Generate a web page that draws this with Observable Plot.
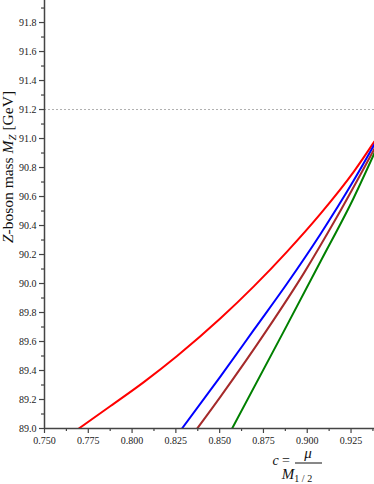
<!DOCTYPE html>
<html><head><meta charset="utf-8">
<script src="https://cdn.jsdelivr.net/npm/d3@7"></script>
<script src="https://cdn.jsdelivr.net/npm/@observablehq/plot@0.6"></script>
<style>
body{margin:0;background:#fff}
svg, svg text { font-family: "Liberation Serif", "Times New Roman", serif !important; }
</style>
</head><body><div id="chart"></div>
<script>
// series values
const seriesNames = ["red", "blue", "brown", "green"];
const seriesColors = ["#ff0000", "#0000ff", "#7a0000", "#008000"];
const cRed   = [0.7696, 0.7877, 0.8067, 0.8257, 0.8505, 0.8695, 0.8885, 0.9075, 0.9265, 0.9384];
const mzRed  = [89.00, 89.155, 89.32, 89.50, 89.76, 89.98, 90.22, 90.48, 90.77, 90.98];
const cBlue  = [0.8285, 0.8505, 0.8695, 0.8885, 0.9075, 0.9265, 0.9384];
const mzBlue = [89.00, 89.36, 89.68, 90.00, 90.34, 90.71, 90.96];
const cBrown  = [0.8372, 0.8505, 0.877, 0.898, 0.917, 0.9384];
const mzBrown = [89.00, 89.22, 89.68, 90.07, 90.46, 90.93];
const cGreen  = [0.8571, 0.8866, 0.9075, 0.9265, 0.9384];
const mzGreen = [89.00, 89.67, 90.15, 90.59, 90.90];
const refMz = [91.2];
const xTicks = [0.750, 0.775, 0.800, 0.825, 0.850, 0.875, 0.900, 0.925];
const xMinor = [0.7625, 0.7875, 0.8125, 0.8375, 0.8625, 0.8875, 0.9125, 0.9375];
const yTicks = [89.0, 89.2, 89.4, 89.6, 89.8, 90.0, 90.2, 90.4, 90.6, 90.8, 91.0, 91.2, 91.4, 91.6, 91.8];
const yMinor = [89.1, 89.3, 89.5, 89.7, 89.9, 90.1, 90.3, 90.5, 90.7, 90.9, 91.1, 91.3, 91.5, 91.7, 91.9];

const cs = [cRed, cBlue, cBrown, cGreen];
const ms = [mzRed, mzBlue, mzBrown, mzGreen];
const data = seriesNames.flatMap((s, i) => cs[i].map((c, j) => ({series: s, c, mz: ms[i][j]})));

const plot = Plot.plot({
  width: 374, height: 484,
  marginLeft: 44, marginRight: 0, marginTop: 0, marginBottom: 56,
  style: {fontSize: "10px", color: "#222", background: "#fff"},
  x: {domain: [0.75, 0.9384], label: null},
  y: {domain: [89, 91.952], label: null},
  color: {domain: seriesNames, range: seriesColors},
  marks: [
    Plot.ruleY(refMz, {stroke: "#b0b0b0", strokeWidth: 1, strokeDasharray: "2,2"}),
    Plot.line(data, {x: "c", y: "mz", z: "series", stroke: "series", strokeWidth: 2, curve: "monotone-x", clip: true}),
    Plot.axisX({ticks: xTicks, tickFormat: d => d.toFixed(3), tickSize: 5, tickPadding: 3, stroke: "#444", strokeWidth: 1.2}),
    Plot.axisX({ticks: xMinor, tickFormat: () => "", tickSize: 3, stroke: "#444", strokeWidth: 1.2}),
    Plot.axisY({ticks: yTicks, tickFormat: d => d.toFixed(1), tickSize: 5, tickPadding: 3, stroke: "#444", strokeWidth: 1.2}),
    Plot.axisY({ticks: yMinor, tickFormat: () => "", tickSize: 3, stroke: "#444", strokeWidth: 1.2}),
    Plot.ruleX([0.75], {stroke: "#444", strokeWidth: 1.5}),
    Plot.ruleY([89], {stroke: "#444", strokeWidth: 1.5})
  ]
});
document.getElementById("chart").appendChild(plot);

const svg = d3.select(plot);
// y-axis title
const yl = svg.append("text")
  .attr("transform", "translate(13,167) rotate(-90)")
  .attr("text-anchor", "middle")
  .style("font-size", "15.5px").attr("fill", "#111");
yl.append("tspan").attr("font-style", "italic").text("Z");
yl.append("tspan").text("-boson mass ");
yl.append("tspan").attr("font-style", "italic").text("M");
yl.append("tspan").attr("font-style", "italic").attr("font-size", "11px").attr("dy", "3").text("Z");
yl.append("tspan").attr("dy", "-3").text(" [GeV]");

// x-axis title: c = mu / M_{1/2}
const g = svg.append("g").attr("fill", "#111");
const t1 = g.append("text").attr("x", 290).attr("y", 465).attr("text-anchor", "end").style("font-size", "14px");
t1.append("tspan").attr("font-style", "italic").text("c");
t1.append("tspan").text(" =");
g.append("text").attr("x", 308).attr("y", 458).attr("text-anchor", "middle").style("font-size", "15px").attr("font-style", "italic").text("μ");
g.append("line").attr("x1", 295).attr("x2", 322).attr("y1", 463).attr("y2", 463).attr("stroke", "#111").attr("stroke-width", 1);
const t2 = g.append("text").attr("x", 297).attr("y", 479).style("font-size", "15px");
t2.append("tspan").attr("font-style", "italic").text("M");
t2.append("tspan").attr("font-size", "10px").attr("dy", "3").text("1 / 2");
</script>
</body></html>
